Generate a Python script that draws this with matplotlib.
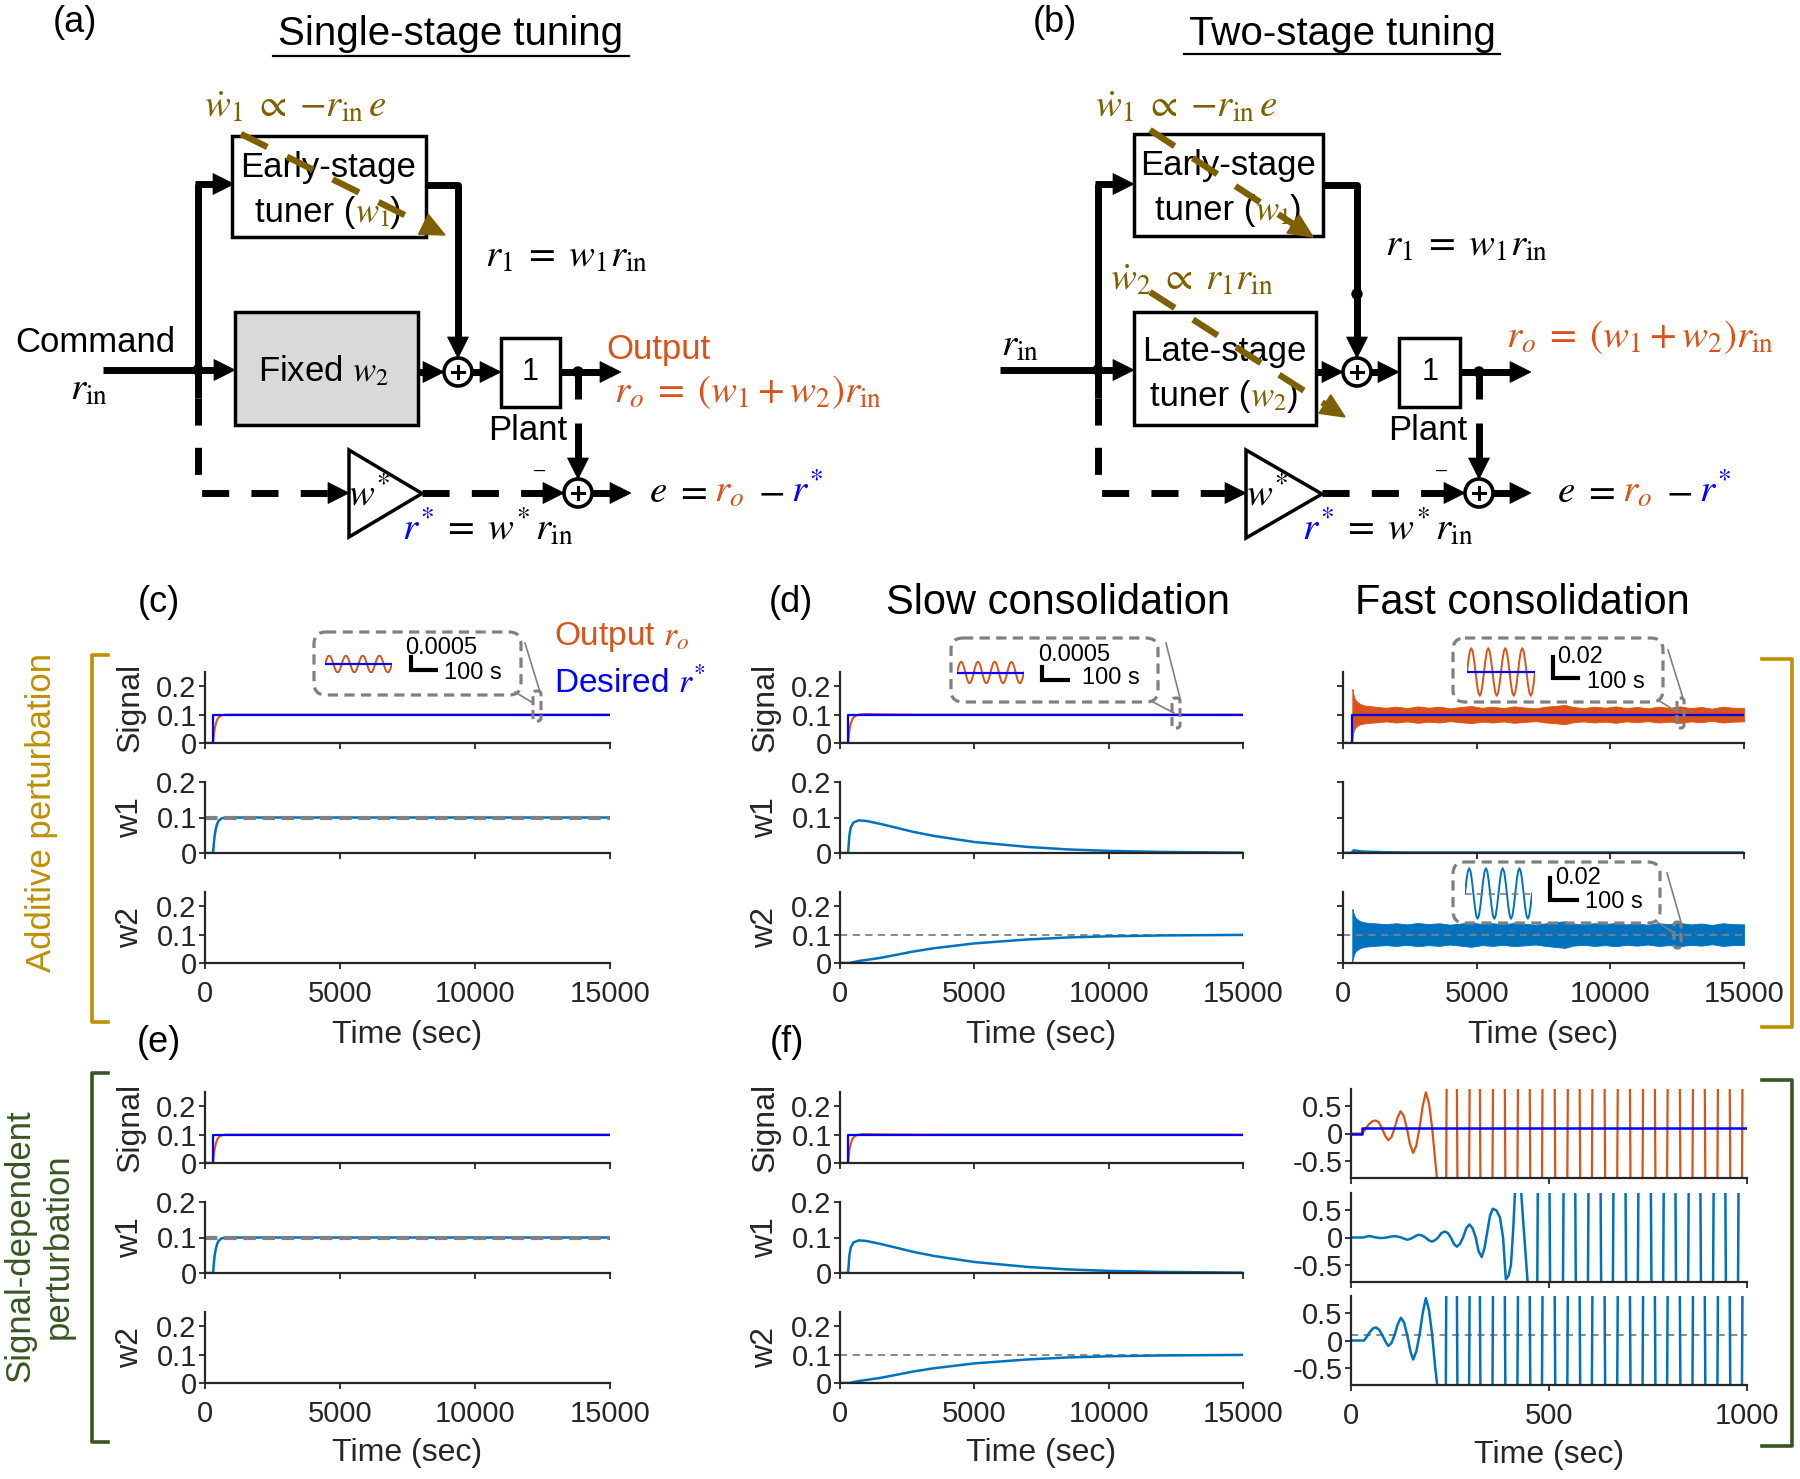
import numpy as np
import matplotlib
matplotlib.use('Agg')
import matplotlib.pyplot as plt
from matplotlib.patches import Rectangle, Circle, Polygon, FancyBboxPatch

plt.rcParams['font.family'] = ['Liberation Sans', 'DejaVu Sans']
plt.rcParams['mathtext.fontset'] = 'stix'

# ---------------- data ----------------
# single-stage tuning (c, e) and slow consolidation (d, f middle)
t_step = [0, 300, 300, 15000]
r_desired = [0, 0, 0.1, 0.1]
t_rise = [0, 300, 330, 360, 400, 450, 500, 600, 700, 800, 15000]
ro_single = [0, 0, 0.03, 0.05, 0.068, 0.082, 0.09, 0.097, 0.099, 0.1, 0.1]
w1_single = [0, 0, 0.03, 0.05, 0.068, 0.082, 0.09, 0.097, 0.099, 0.1, 0.1]
t_flat = [0, 15000]
w2_single = [0, 0]

t_ro_slow = [0, 300, 330, 360, 400, 450, 500, 600, 700, 900, 1500, 3000, 15000]
ro_slow = [0, 0, 0.03, 0.05, 0.068, 0.082, 0.09, 0.097, 0.1, 0.102, 0.101, 0.1, 0.1]
t_slow = [0, 300, 350, 400, 500, 700, 1000, 1500, 2000, 2700, 3500, 5000, 6000, 7000, 8500, 10000, 12000, 15000]
w1_slow = [0, 0, 0.05, 0.072, 0.086, 0.092, 0.09, 0.082, 0.073, 0.06, 0.048, 0.031, 0.024, 0.017, 0.01, 0.006, 0.003, 0.001]
w2_slow = [0, 0, 0.0, 0.001, 0.003, 0.007, 0.011, 0.018, 0.027, 0.04, 0.052, 0.069, 0.076, 0.083, 0.09, 0.094, 0.097, 0.099]

# fast consolidation, additive perturbation (noise bands)
t_step_fast = [0, 350, 350, 15000]
t_band = [0, 345, 350, 380, 420, 480, 560, 650, 800, 1000, 1300, 1600, 2000, 2400, 2800, 3200,
          3600, 4000, 4400, 4800, 5200, 5600, 6000, 6400, 6800, 7200, 7600, 8000, 8300, 8600,
          9000, 9400, 9800, 10200, 10600, 11000, 11400, 11800, 12200, 12600, 13000, 13400,
          13800, 14200, 14600, 15000]
sig_hi = [0, 0, 0.19, 0.175, 0.16, 0.15, 0.143, 0.137, 0.132, 0.13, 0.127, 0.124, 0.128, 0.123,
          0.129, 0.124, 0.128, 0.122, 0.127, 0.13, 0.124, 0.128, 0.123, 0.129, 0.125, 0.122, 0.128,
          0.131, 0.134, 0.127, 0.123, 0.128, 0.124, 0.129, 0.123, 0.127, 0.122, 0.128, 0.124, 0.129,
          0.123, 0.127, 0.121, 0.128, 0.124, 0.123]
sig_lo = [0, 0, 0.02, 0.035, 0.048, 0.056, 0.062, 0.066, 0.069, 0.071, 0.073, 0.076, 0.072, 0.076,
          0.071, 0.075, 0.072, 0.077, 0.073, 0.07, 0.075, 0.072, 0.076, 0.071, 0.074, 0.077, 0.072,
          0.069, 0.066, 0.073, 0.076, 0.072, 0.075, 0.071, 0.076, 0.073, 0.077, 0.072, 0.075, 0.071,
          0.076, 0.073, 0.078, 0.072, 0.075, 0.076]
w2_hi = [0, 0, 0.19, 0.18, 0.168, 0.158, 0.152, 0.147, 0.143, 0.141, 0.139, 0.137, 0.14, 0.136,
         0.141, 0.137, 0.14, 0.135, 0.139, 0.143, 0.137, 0.14, 0.136, 0.141, 0.138, 0.135, 0.14,
         0.144, 0.147, 0.139, 0.136, 0.14, 0.137, 0.141, 0.136, 0.139, 0.135, 0.14, 0.137, 0.141,
         0.136, 0.139, 0.134, 0.14, 0.137, 0.136]
w2_lo = [0, 0, 0.01, 0.02, 0.032, 0.042, 0.048, 0.053, 0.057, 0.059, 0.061, 0.063, 0.06, 0.064,
         0.059, 0.063, 0.06, 0.065, 0.061, 0.057, 0.063, 0.06, 0.064, 0.059, 0.062, 0.065, 0.06,
         0.056, 0.053, 0.061, 0.064, 0.06, 0.063, 0.059, 0.064, 0.061, 0.065, 0.06, 0.063, 0.059,
         0.064, 0.061, 0.066, 0.06, 0.063, 0.064]
t_w1_fast = [0, 345, 360, 400, 500, 700, 1000, 1500, 2500, 15000]
w1_fast = [0, 0, 0.004, 0.007, 0.006, 0.004, 0.003, 0.002, 0.001, 0.001]

# fast consolidation, signal-dependent perturbation (unstable, 0-1000 s)
t_step_unst = [0, 28, 28, 1000]
sig_unst = [(0, 0), (28, 0), (36, 0.08), (45, 0.17), (54, 0.225), (62, 0.24), (70, 0.21), (78, 0.1),
            (86, -0.04), (94, -0.125), (102, -0.07), (110, 0.1), (118, 0.3), (125, 0.41), (133, 0.33),
            (141, 0.1), (149, -0.2), (157, -0.36), (165, -0.22), (173, 0.1), (181, 0.5), (189, 0.76),
            (197, 0.55), (205, 0.1), (212, -0.45), (218, -0.9), (229, -20), (241, 0.1), (254, 20),
            (268, 0.1), (283, -20), (299, 0.1), (312, 20), (326, 0.1), (342, -20), (358, 0.1),
            (373, 20), (389, 0.1), (405, -20), (421, 0.1), (436, 20), (452, 0.1), (467, -20),
            (483, 0.1), (499, 20), (515, 0.1), (531, -20), (547, 0.1), (562, 20), (578, 0.1),
            (593, -20), (609, 0.1), (625, 20), (641, 0.1), (657, -20), (673, 0.1), (689, 20),
            (705, 0.1), (721, -20), (737, 0.1), (752, 20), (768, 0.1), (783, -20), (799, 0.1),
            (815, 20), (831, 0.1), (847, -20), (863, 0.1), (878, 20), (894, 0.1), (910, -20),
            (926, 0.1), (941, 20), (957, 0.1), (972, -20), (988, 0.1), (1000, 20)]
w1_unst = [(0, 0), (31, 0), (38, 0.015), (44, 0.025), (52, 0.02), (60, 0.005), (68, -0.005),
           (77, -0.01), (86, -0.005), (94, 0.005), (102, 0.018), (111, 0.025), (119, 0.015),
           (127, 0.0), (135, -0.025), (142, -0.04), (150, -0.025), (157, 0.0), (165, 0.035),
           (172, 0.05), (180, 0.035), (188, 0.0), (196, -0.05), (204, -0.075), (212, -0.05),
           (220, 0.0), (228, 0.08), (237, 0.11), (245, 0.08), (252, 0.0), (260, -0.12), (267, -0.17),
           (275, -0.12), (283, 0.0), (291, 0.17), (299, 0.24), (307, 0.17), (315, 0.0), (322, -0.25),
           (330, -0.36), (337, -0.2), (344, 0.1), (351, 0.4), (358, 0.53), (367, 0.5), (376, 0.375),
           (384, 0.0), (391, -0.77), (398, -0.7), (404, -0.5), (410, 0.2), (414, 0.82), (424, 1.4),
           (446, -0.82), (458, -20), (471, 0.0), (487, 20), (502, 0.0), (519, -20), (536, 0.0),
           (552, 20), (567, 0.0), (583, -20), (599, 0.0), (615, 20), (631, 0.0), (646, -20),
           (662, 0.0), (678, 20), (694, 0.0), (710, -20), (725, 0.0), (741, 20), (758, 0.0),
           (773, -20), (789, 0.0), (805, 20), (820, 0.0), (836, -20), (852, 0.0), (868, 20),
           (883, 0.0), (899, -20), (915, 0.0), (931, 20), (946, 0.0), (962, -20), (978, 0.0),
           (990, 20)]
w2_unst = [(0, 0), (33, 0), (40, 0.07), (48, 0.16), (55, 0.22), (63, 0.24), (71, 0.2), (79, 0.1),
           (87, -0.02), (94, -0.1), (102, -0.05), (110, 0.1), (118, 0.3), (126, 0.42), (134, 0.33),
           (142, 0.1), (150, -0.2), (157, -0.35), (165, -0.2), (173, 0.1), (181, 0.5), (189, 0.78),
           (197, 0.56), (205, 0.1), (212, -0.45), (219, -0.9), (229, -20), (240, 0.1), (254, 20),
           (268, 0.1), (283, -20), (299, 0.1), (312, 20), (326, 0.1), (342, -20), (358, 0.1),
           (373, 20), (389, 0.1), (405, -20), (421, 0.1), (436, 20), (452, 0.1), (467, -20),
           (483, 0.1), (499, 20), (515, 0.1), (531, -20), (547, 0.1), (562, 20), (578, 0.1),
           (593, -20), (609, 0.1), (625, 20), (641, 0.1), (657, -20), (673, 0.1), (689, 20),
           (705, 0.1), (721, -20), (737, 0.1), (752, 20), (768, 0.1), (783, -20), (799, 0.1),
           (815, 20), (831, 0.1), (847, -20), (863, 0.1), (878, 20), (894, 0.1), (910, -20),
           (926, 0.1), (941, 20), (957, 0.1), (972, -20), (988, 0.1), (1000, 20)]

# zoomed oscillation shown inside the dashed call-out boxes
inset_wave = [0, 0.5, 0.87, 1, 0.87, 0.5, 0, -0.5, -0.87, -1, -0.87, -0.5,
              0, 0.5, 0.87, 1, 0.87, 0.5, 0, -0.5, -0.87, -1, -0.87, -0.5,
              0, 0.5, 0.87, 1, 0.87, 0.5, 0, -0.5, -0.87, -1, -0.87, -0.5,
              0, 0.5, 0.87, 1, 0.87, 0.5, 0, -0.5, -0.87, -1, -0.87, -0.5, 0]

ticks_long = [0, 5000, 10000, 15000]
ticks_short = [0, 500, 1000]
yt_small = [0, 0.1, 0.2]
yt_small_lab = ['0', '0.1', '0.2']
yt_big = [-0.5, 0, 0.5]
yt_big_lab = ['-0.5', '0', '0.5']

# ---------------- colours ----------------
ORANGE = '#D95319'
BLUE = '#0000FF'
LBLUE = '#0072BD'
GRAY = '#808080'
BROWN = '#7F6000'
GOLD = '#BF9000'
GREEN = '#375623'
AXC = '#262626'

W, H = 1800, 1479
fig = plt.figure(figsize=(W / 100, H / 100), dpi=100)


def ax_px(x0, y0, x1, y1):
    a = fig.add_axes([x0 / W, 1 - y1 / H, (x1 - x0) / W, (y1 - y0) / H])
    a.set_facecolor('none')
    return a


def style(a, xlim, ylim, xticks, yticks, ylabs, show_x, ylabel=None):
    a.set_xlim(xlim)
    a.set_ylim(ylim)
    a.set_xticks(xticks)
    a.set_yticks(yticks)
    a.set_yticklabels(ylabs)
    a.spines[['top', 'right']].set_visible(False)
    a.spines[['left', 'bottom']].set_linewidth(1.6)
    a.spines[['left', 'bottom']].set_color(AXC)
    a.tick_params(direction='out', length=4, width=1.3, colors=AXC, labelsize=21, pad=2)
    a.tick_params(axis='x', pad=8.5)
    if show_x:
        a.set_xticklabels([str(v) for v in xticks])
    else:
        a.tick_params(axis='x', labelbottom=False)
    if ylabel:
        a.set_ylabel(ylabel, fontsize=23, color=AXC)
        a.yaxis.set_label_coords(-0.185, 0.5)
        a.yaxis.label.set_va('center')


def time_label(a, yc):
    a.set_xlabel('Time (sec)', fontsize=23, color=AXC)
    a.xaxis.set_label_coords(0.5, yc)
    a.xaxis.label.set_va('center')


rows_top = [(672, 743), (782, 853), (892, 963)]
rows_bot = [(1092, 1163), (1202, 1273), (1312, 1383)]
rows_unst = [(1089, 1178), (1193, 1282), (1296, 1385)]
names = ['Signal', 'w1', 'w2']
ylims = [(0, 0.25), (0, 0.2), (0, 0.25)]

# ---- single-stage columns (c) and (e), slow consolidation (d) and (f) ----
for rows, tl in [(rows_top, -1.01), (rows_bot, -0.986)]:
    for (x0, x1), kind in [((205, 610), 'single'), ((840, 1243), 'slow')]:
        axs = []
        for i, (y0, y1) in enumerate(rows):
            a = ax_px(x0, y0, x1, y1)
            style(a, (0, 15000), ylims[i], ticks_long, yt_small, yt_small_lab, i == 2, names[i])
            axs.append(a)
        if kind == 'single':
            axs[0].plot(t_rise, ro_single, color=ORANGE, lw=1.5)
            axs[1].plot(t_rise, w1_single, color=LBLUE, lw=1.8)
            axs[1].axhline(0.1, color=GRAY, lw=3, dashes=(3, 1.6))
            axs[2].plot(t_flat, w2_single, color=LBLUE, lw=1.8)
        else:
            axs[0].plot(t_ro_slow, ro_slow, color=ORANGE, lw=1.5)
            axs[1].plot(t_slow, w1_slow, color=LBLUE, lw=1.8)
            axs[2].axhline(0.1, color=GRAY, lw=1.3, dashes=(4, 3))
            axs[2].plot(t_slow, w2_slow, color=LBLUE, lw=1.8)
        axs[0].plot(t_step, r_desired, color=BLUE, lw=1.6)
        time_label(axs[2], tl)

# ---- fast consolidation, additive ----
axs = []
for i, (y0, y1) in enumerate(rows_top):
    a = ax_px(1343, y0, 1744, y1)
    style(a, (0, 15000), ylims[i], ticks_long, yt_small, ['', '', ''], i == 2)
    axs.append(a)
axs[0].plot([0, 345], [0, 0], color=ORANGE, lw=1.5)
axs[0].fill_between(t_band, sig_lo, sig_hi, color=ORANGE, lw=0.6, ec=ORANGE)
axs[0].plot(t_step_fast, r_desired, color=BLUE, lw=1.6)
axs[1].plot(t_w1_fast, w1_fast, color=LBLUE, lw=2)
axs[2].plot([0, 345], [0, 0], color=LBLUE, lw=1.8)
axs[2].fill_between(t_band, w2_lo, w2_hi, color=LBLUE, lw=0.6, ec=LBLUE)
axs[2].axhline(0.1, color=GRAY, lw=1.3, dashes=(4, 3))
time_label(axs[2], -1.01)

# ---- fast consolidation, signal-dependent (unstable) ----
axs = []
for i, (y0, y1) in enumerate(rows_unst):
    a = ax_px(1351, y0, 1747, y1)
    style(a, (0, 1000), (-0.82, 0.82), ticks_short, yt_big, yt_big_lab, i == 2)
    axs.append(a)
s = np.array(sig_unst).T
axs[0].plot(s[0], s[1], color=ORANGE, lw=1.6)
axs[0].plot(t_step_unst, r_desired, color=BLUE, lw=1.8)
s = np.array(w1_unst).T
axs[1].plot(s[0], s[1], color=LBLUE, lw=1.8)
s = np.array(w2_unst).T
axs[2].axhline(0.1, color=GRAY, lw=1.3, dashes=(4, 3))
axs[2].plot(s[0], s[1], color=LBLUE, lw=1.8)
time_label(axs[2], -0.787)

# ---- zoomed call-out waves ----
xi = np.arange(len(inset_wave))
for (x0, y0, x1, y1), col, ref in [((325, 655, 392, 673), ORANGE, 'blue'),
                                   ((957, 661, 1024, 684), ORANGE, 'blue'),
                                   ((1467, 647, 1535, 697), ORANGE, 'blue'),
                                   ((1465, 867, 1532, 920), LBLUE, 'gray')]:
    a = ax_px(x0, y0, x1, y1)
    a.axis('off')
    a.plot(xi, inset_wave, color=col, lw=1.4)
    if ref == 'blue':
        a.plot([xi[0], xi[-1]], [0, 0], color=BLUE, lw=1.6)
    else:
        a.plot([xi[0], xi[-1]], [0, 0], color=GRAY, lw=1.2, dashes=(4, 3))
    a.set_xlim(xi[0], xi[-1])
    a.set_ylim(-1.05, 1.05)

# ---------------- overlay for the block diagrams and annotations ----------------
ov = fig.add_axes([0, 0, 1, 1])
ov.set_xlim(0, W)
ov.set_ylim(H, 0)
ov.axis('off')
ov.set_facecolor('none')
renderer = fig.canvas.get_renderer()


def T(x, y, s, size=25, color='k', ha='center', va='center', **kw):
    return ov.text(x, y, s, fontsize=size, color=color, ha=ha, va=va, zorder=6, **kw)


def seq(x, y, parts, size=27, ha='left'):
    texts, widths = [], []
    for s, c in parts:
        t = ov.text(0, y, s, fontsize=size, color=c, ha='left', va='baseline', zorder=6)
        texts.append(t)
        widths.append(t.get_window_extent(renderer).width)
    x0 = x - sum(widths) / 2 if ha == 'center' else x
    for t, w in zip(texts, widths):
        t.set_x(x0)
        x0 += w


LW = 5


def line(xs, ys, dashed=False, lw=LW, color='k', z=2):
    kw = dict(dashes=(3.9, 3.2)) if dashed else {}
    ov.plot(xs, ys, color=color, lw=lw, solid_capstyle='butt', zorder=z, **kw)


def head(x, y, d, size=21, color='k', z=3):
    h = size / 2
    if d == 'r':
        pts = [(x, y), (x - size, y - h), (x - size, y + h)]
    else:
        pts = [(x, y), (x - h, y - size), (x + h, y - size)]
    ov.add_patch(Polygon(pts, closed=True, fc=color, ec=color, lw=0.5, zorder=z))


def box(x, y, w, h, fc='white'):
    ov.add_patch(Rectangle((x, y), w, h, fc=fc, ec='k', lw=2.5, zorder=1))


def summer(cx, cy, r=14):
    ov.add_patch(Circle((cx, cy), r, fc='white', ec='k', lw=2.6, zorder=3))
    ov.plot([cx - 6, cx + 6], [cy, cy], color='k', lw=2.2, zorder=4)
    ov.plot([cx, cx], [cy - 6, cy + 6], color='k', lw=2.2, zorder=4)


def dot(cx, cy, r=5):
    ov.add_patch(Circle((cx, cy), r, fc='k', ec='k', zorder=4))


def brown_arrow(x0, y0, x1, y1):
    L = np.hypot(x1 - x0, y1 - y0)
    ux, uy = (x1 - x0) / L, (y1 - y0) / L
    hs, hw = 24, 22
    bx, by = x1 - ux * hs, y1 - uy * hs
    ov.plot([x0, bx], [y0, by], color=BROWN, lw=4.6, dashes=(4.6, 3.4), solid_capstyle='butt', zorder=7)
    px, py = -uy, ux
    ov.add_patch(Polygon([(x1, y1), (bx + px * hw / 2, by + py * hw / 2), (bx - px * hw / 2, by - py * hw / 2)],
                         closed=True, fc=BROWN, ec=BROWN, zorder=7))


def triangle(xl, yt, xr, yb):
    ov.add_patch(Polygon([(xl, yt), (xl, yb), (xr, (yt + yb) / 2)], closed=True, fc='white', ec='k', lw=2.5, zorder=1))


rin = r'r_{\mathrm{in}}'
DT = 25   # diagram text
MT = 28   # diagram maths
w1dot = r'$\dot{w}_1\;\propto\;{-}' + rin + r'\,e$'
w2dot = r'$\dot{w}_2\;\propto\;r_1' + rin + '$'
r1_eq = r'$r_1\;=\;w_1' + rin + '$'
ro_eq = r'$r_o\;=\;(w_1+w_2)' + rin + '$'
e_parts = [(r'$e$', 'k'), (r'$\;=$', 'k'), (r'$\;r_o$', ORANGE), (r'$\;-$', 'k'), (r'$\;r^{\!*}$', BLUE)]
rs_parts = [(r'$r^{\!*}$', BLUE), (r'$\;=\;w^{\!*}' + rin + '$', 'k')]
wstar = r'$w^{\!*}$'

# ===== (a) single-stage =====
T(75, 23, '(a)', size=26)
T(451, 34, 'Single-stage tuning', size=29)
ov.plot([273, 629], [56, 56], color='k', lw=1.6)
T(204, 107, w1dot, size=MT, color=BROWN, ha='left')
box(232, 136, 194, 101)
T(328, 168, 'Early-stage', size=DT)
seq(328, 222, [('tuner (', 'k'), (r'$w_1$', BROWN), (')', 'k')], size=DT, ha='center')
box(235, 312, 183, 113, fc='#D9D9D9')
T(324, 371, r'Fixed $w_2$', size=DT)
T(95, 342, 'Command', size=DT)
T(89, 390, r'$' + rin + '$', size=MT)
line([103, 214], [370, 370])
head(235, 370, 'r')
line([198, 198], [184, 398])
line([195, 213], [184, 184])
head(234, 184, 'r')
dot(198, 370)
line([198, 198, 330], [398, 493, 493], dashed=True)
head(349, 493, 'r')
line([426, 458, 458], [185, 185, 340])
head(458, 358, 'd')
line([418, 425], [372, 372])
head(444, 372, 'r')
summer(458, 372)
line([472, 481], [372, 372])
head(501, 372, 'r')
box(501, 338, 59, 69)
T(530, 372, '1', size=22)
line([560, 600], [372, 372])
head(621, 372, 'r')
dot(578, 372)
line([578, 578], [372, 399])
line([578, 578], [423, 459])
head(578, 479, 'd')
summer(578, 493)
T(528, 431, 'Plant', size=DT)
T(540, 470, '\u2013', size=14)
triangle(349, 450, 422, 537)
T(369, 495, wstar, size=MT)
line([422, 543], [493, 493], dashed=True)
head(564, 493, 'r')
line([592, 611], [493, 493])
head(631, 493, 'r')
T(485, 257, r1_eq, size=MT, ha='left')
T(606, 349, 'Output', size=DT, color=ORANGE, ha='left')
T(614, 392, ro_eq, size=MT, color=ORANGE, ha='left')
seq(649, 502, e_parts, size=MT)
seq(402, 540, rs_parts, size=MT)
brown_arrow(241, 134, 445, 235)

# ===== (b) two-stage =====
T(1055, 23, '(b)', size=26)
T(1342, 34, 'Two-stage tuning', size=29)
ov.plot([1184, 1500], [54, 54], color='k', lw=1.6)
T(1095, 107, w1dot, size=MT, color=BROWN, ha='left')
T(1110, 280, w2dot, size=MT, color=BROWN, ha='left')
box(1134, 134, 189, 102)
T(1228, 166, 'Early-stage', size=DT)
seq(1228, 220, [('tuner (', 'k'), (r'$w_1$', BROWN), (')', 'k')], size=DT, ha='center')
box(1134, 312, 182, 113)
T(1224, 351, 'Late-stage', size=DT)
seq(1224, 406, [('tuner (', 'k'), (r'$w_2$', BROWN), (')', 'k')], size=DT, ha='center')
T(1020, 346, r'$' + rin + '$', size=MT)
line([1000, 1114], [370, 370])
head(1134, 370, 'r')
line([1098, 1098], [184, 398])
line([1095, 1113], [184, 184])
head(1134, 184, 'r')
dot(1098, 370)
line([1098, 1098, 1227], [398, 493, 493], dashed=True)
head(1246, 493, 'r')
line([1323, 1357, 1357], [185, 185, 340])
head(1357, 358, 'd')
dot(1357, 294)
line([1316, 1323], [372, 372])
head(1343, 372, 'r')
summer(1357, 372)
line([1371, 1379], [372, 372])
head(1399, 372, 'r')
box(1399, 338, 61, 69)
T(1430, 372, '1', size=22)
line([1460, 1511], [372, 372])
head(1531, 372, 'r')
dot(1479, 372)
line([1479, 1479], [372, 399])
line([1479, 1479], [423, 459])
head(1479, 479, 'd')
summer(1479, 493)
T(1428, 431, 'Plant', size=DT)
T(1442, 470, '\u2013', size=14)
triangle(1246, 450, 1322, 538)
T(1267, 495, wstar, size=MT)
line([1322, 1444], [493, 493], dashed=True)
head(1465, 493, 'r')
line([1493, 1511], [493, 493])
head(1531, 493, 'r')
T(1385, 246, r1_eq, size=MT, ha='left')
T(1506, 337, ro_eq, size=MT, color=ORANGE, ha='left')
seq(1557, 502, e_parts, size=MT)
seq(1302, 540, rs_parts, size=MT)
brown_arrow(1150, 130, 1313, 237)
brown_arrow(1150, 292, 1345, 417)

# ===== plot annotations =====
T(159, 603, '(c)', size=26)
T(791, 603, '(d)', size=26)
T(1058, 603, 'Slow consolidation', size=30)
T(1522, 603, 'Fast consolidation', size=30)
T(159, 1043, '(e)', size=26)
T(787, 1043, '(f)', size=26)
T(554, 637, r'Output $r_o$', size=24, color=ORANGE, ha='left')
T(554, 683, r'Desired $r^{\!*}$', size=24, color=BLUE, ha='left')
T(42, 813, 'Additive perturbation', size=25, color=GOLD, rotation=90)
T(39, 1246, 'Signal-dependent\nperturbation', size=25, color=GREEN, rotation=90, linespacing=1.2)

for xs, ys, c in [([108, 92, 92, 108], [655, 655, 1022, 1022], GOLD),
                  ([1762, 1792, 1792, 1762], [659, 659, 1027, 1027], GOLD),
                  ([108, 92, 92, 108], [1073, 1073, 1442, 1442], GREEN),
                  ([1762, 1792, 1792, 1762], [1080, 1080, 1446, 1446], GREEN)]:
    ov.plot(xs, ys, color=c, lw=2.6, solid_joinstyle='round')

# call-out boxes, markers, connectors and scale bars
for (x0, y0, x1, y1) in [(314, 632, 521, 695), (951, 638, 1158, 702),
                         (1453, 638, 1663, 702), (1453, 862, 1660, 923)]:
    ov.add_patch(FancyBboxPatch((x0, y0), x1 - x0, y1 - y0, boxstyle='round,pad=0,rounding_size=12',
                                fill=False, ec=GRAY, lw=2.3, ls=(0, (3.2, 2)), zorder=5))
for (x0, y0, w, h) in [(533, 691, 8, 30), (1172, 698, 8, 30), (1677, 698, 7, 30), (1674, 922, 7, 26)]:
    ov.add_patch(FancyBboxPatch((x0, y0), w, h, boxstyle='round,pad=0,rounding_size=3',
                                fill=False, ec=GRAY, lw=2.2, ls=(0, (3, 1.5)), zorder=5))
for seg in [((525, 643), (540, 692)), ((515, 692), (533, 703)),
            ((1166, 643), (1180, 698)), ((1153, 702), (1174, 713)),
            ((1668, 650), (1683, 698)), ((1658, 700), (1677, 712)),
            ((1667, 873), (1681, 922)), ((1657, 922), (1674, 933))]:
    ov.plot([seg[0][0], seg[1][0]], [seg[0][1], seg[1][1]], color=GRAY, lw=1.2, zorder=5)
for (xb, yt, yb, xr, lab, lx, ly, tx, ty) in [
        (411, 657, 670, 436, '0.0005', 405, 648, 444, 673),
        (1042, 667, 680, 1068, '0.0005', 1038, 655, 1082, 678),
        (1553, 657, 678, 1578, '0.02', 1557, 657, 1587, 682),
        (1550, 878, 900, 1577, '0.02', 1555, 878, 1585, 902)]:
    ov.plot([xb, xb, xr], [yt, yb, yb], color='k', lw=3, solid_joinstyle='miter', zorder=6)
    T(lx, ly, lab, size=17, ha='left')
    T(tx, ty, '100 s', size=17, ha='left')

fig.savefig('out.png', dpi=100)
